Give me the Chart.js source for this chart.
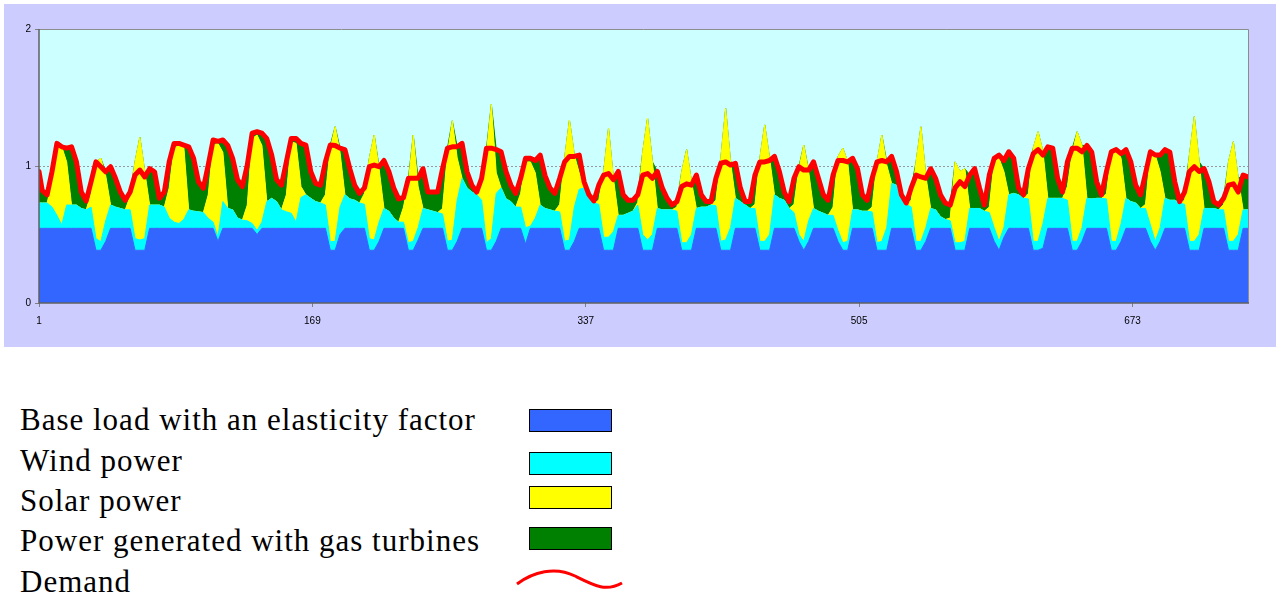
<!DOCTYPE html>
<html lang="en">
<head>
    <meta charset="UTF-8">
    <title>Base load, wind, solar and gas turbines vs demand</title>
    <script src="https://cdn.jsdelivr.net/npm/chart.js@4.4.0/dist/chart.umd.min.js"></script>
    <style>
        body { margin: 0; background: #fff; width: 1277px; height: 594px; position: relative; overflow: hidden; }
        #chartBox { position: absolute; left: 4px; top: 4px; width: 1272px; height: 343px; background: #CCCCFF; }
        .legendText { position: absolute; left: 20px; font-family: "Liberation Serif", "Times New Roman", serif;
                      font-size: 31px; letter-spacing: 1px; line-height: 40px; color: #000; white-space: nowrap; }
        .swatch { position: absolute; left: 529px; width: 81px; height: 21px; border: 1px solid #000; }
    </style>
</head>
<body>

    <div id="chartBox"><canvas id="chart"></canvas></div>

    <!-- Legend below the chart -->
    <div class="legendText" style="top:400px">Base load with an elasticity factor</div>
    <div class="legendText" style="top:441px">Wind power</div>
    <div class="legendText" style="top:481px">Solar power</div>
    <div class="legendText" style="top:521px">Power generated with gas turbines</div>
    <div class="legendText" style="top:562px">Demand</div>
    <div class="swatch" style="top:409px; background:#3366FF"></div>
    <div class="swatch" style="top:452px; background:#00FFFF"></div>
    <div class="swatch" style="top:486px; background:#FFFF00"></div>
    <div class="swatch" style="top:527px; background:#008000"></div>
    <svg style="position:absolute; left:0; top:0" width="1277" height="594">
        <path d="M517,584 C533,572 555,566 575,576 S606,592 622,583" stroke="#FF0000" stroke-width="3" fill="none"/>
    </svg>

    <script>
        // hourly index of a 31-day month, sampled every 3 hours (plus the first hour)
        const sampleHours = [1].concat(Array.from({ length: 248 }, (_, k) => 3 + 3 * k));
        const xTicks = [1, 169, 337, 505, 673];

        // one row per day
        const baseLoad = [
            0.545,
            0.545, 0.545, 0.545, 0.545, 0.545, 0.545, 0.545, 0.545,
            0.545, 0.545, 0.545, 0.385, 0.385, 0.45, 0.545, 0.545,
            0.545, 0.545, 0.545, 0.385, 0.385, 0.385, 0.545, 0.545,
            0.545, 0.545, 0.545, 0.545, 0.545, 0.545, 0.545, 0.545,
            0.545, 0.545, 0.545, 0.545, 0.45, 0.545, 0.545, 0.545,
            0.545, 0.545, 0.545, 0.545, 0.5, 0.545, 0.545, 0.545,
            0.545, 0.545, 0.545, 0.545, 0.545, 0.545, 0.545, 0.545,
            0.545, 0.545, 0.545, 0.385, 0.385, 0.5, 0.545, 0.545,
            0.545, 0.545, 0.545, 0.385, 0.385, 0.45, 0.545, 0.545,
            0.545, 0.545, 0.545, 0.385, 0.385, 0.46, 0.545, 0.545,
            0.545, 0.545, 0.545, 0.385, 0.385, 0.45, 0.545, 0.545,
            0.545, 0.545, 0.545, 0.385, 0.385, 0.45, 0.545, 0.545,
            0.545, 0.545, 0.545, 0.43, 0.545, 0.545, 0.545, 0.545,
            0.545, 0.545, 0.545, 0.385, 0.385, 0.45, 0.545, 0.545,
            0.545, 0.545, 0.545, 0.385, 0.385, 0.385, 0.545, 0.545,
            0.545, 0.545, 0.545, 0.385, 0.385, 0.385, 0.545, 0.545,
            0.545, 0.545, 0.545, 0.385, 0.385, 0.385, 0.545, 0.545,
            0.545, 0.545, 0.545, 0.385, 0.385, 0.385, 0.545, 0.545,
            0.545, 0.545, 0.545, 0.385, 0.385, 0.385, 0.545, 0.545,
            0.545, 0.545, 0.545, 0.45, 0.385, 0.45, 0.545, 0.545,
            0.545, 0.545, 0.545, 0.45, 0.385, 0.385, 0.545, 0.545,
            0.545, 0.545, 0.545, 0.385, 0.385, 0.385, 0.545, 0.545,
            0.545, 0.545, 0.545, 0.385, 0.385, 0.45, 0.545, 0.545,
            0.545, 0.545, 0.545, 0.385, 0.385, 0.385, 0.545, 0.545,
            0.545, 0.545, 0.545, 0.45, 0.385, 0.48, 0.545, 0.545,
            0.545, 0.545, 0.545, 0.385, 0.385, 0.4, 0.545, 0.545,
            0.545, 0.545, 0.545, 0.385, 0.385, 0.45, 0.545, 0.545,
            0.545, 0.545, 0.545, 0.385, 0.385, 0.45, 0.545, 0.545,
            0.545, 0.545, 0.545, 0.45, 0.385, 0.45, 0.545, 0.545,
            0.545, 0.545, 0.545, 0.385, 0.385, 0.385, 0.545, 0.545,
            0.545, 0.545, 0.545, 0.385, 0.385, 0.385, 0.545, 0.545
        ];

        const windPower = [
            0.185,
            0.185, 0.185, 0.155, 0.095, 0.025, 0.17, 0.17, 0.17,
            0.145, 0.135, 0.155, 0.085, 0.062, 0.15, 0.17, 0.155,
            0.145, 0.135, 0.135, 0.085, 0.075, 0.085, 0.17, 0.17,
            0.17, 0.155, 0.075, 0.045, 0.035, 0.065, 0.135, 0.125,
            0.121, 0.115, 0.073, 0.045, 0.03, 0.195, 0.145, 0.135,
            0.075, 0.06, 0.055, 0.035, 0.03, 0.045, 0.195, 0.219,
            0.195, 0.135, 0.121, 0.11, 0.045, 0.225, 0.245, 0.219,
            0.195, 0.185, 0.17, 0.062, 0.065, 0.2, 0.245, 0.215,
            0.205, 0.185, 0.175, 0.085, 0.075, 0.14, 0.145, 0.125,
            0.075, 0.045, 0.045, 0.055, 0.065, 0.09, 0.145, 0.135,
            0.125, 0.115, 0.105, 0.065, 0.075, 0.3, 0.365, 0.295,
            0.265, 0.245, 0.205, 0.055, 0.085, 0.35, 0.295, 0.215,
            0.195, 0.155, 0.155, 0.12, 0.015, 0.075, 0.17, 0.145,
            0.135, 0.125, 0.12, 0.065, 0.075, 0.25, 0.285, 0.295,
            0.235, 0.185, 0.175, 0.095, 0.095, 0.135, 0.095, 0.095,
            0.11, 0.125, 0.17, 0.115, 0.075, 0.115, 0.145, 0.135,
            0.135, 0.135, 0.125, 0.055, 0.055, 0.115, 0.145, 0.155,
            0.155, 0.17, 0.165, 0.065, 0.075, 0.165, 0.219, 0.195,
            0.17, 0.145, 0.145, 0.065, 0.065, 0.115, 0.245, 0.219,
            0.205, 0.145, 0.115, 0.05, 0.065, 0.15, 0.145, 0.125,
            0.11, 0.095, 0.095, 0.08, 0.055, 0.065, 0.135, 0.135,
            0.125, 0.125, 0.12, 0.055, 0.065, 0.165, 0.328, 0.315,
            0.235, 0.175, 0.155, 0.065, 0.065, 0.1, 0.145, 0.135,
            0.085, 0.065, 0.055, 0.055, 0.055, 0.065, 0.145, 0.145,
            0.145, 0.125, 0.115, 0.1, 0.065, 0.07, 0.245, 0.255,
            0.245, 0.219, 0.215, 0.065, 0.065, 0.18, 0.219, 0.219,
            0.219, 0.219, 0.205, 0.065, 0.065, 0.1, 0.219, 0.215,
            0.219, 0.219, 0.215, 0.065, 0.065, 0.13, 0.219, 0.195,
            0.185, 0.145, 0.145, 0.12, 0.065, 0.1, 0.219, 0.205,
            0.205, 0.185, 0.175, 0.065, 0.065, 0.115, 0.145, 0.145,
            0.145, 0.135, 0.135, 0.065, 0.065, 0.115, 0.135, 0.135
        ];

        const solarPower = [
            0,
            0, 0, 0.185, 0.51, 0.57, 0.315, 0, 0,
            0, 0, 0.1, 0.56, 0.609, 0.33, 0, 0,
            0, 0, 0.1, 0.56, 0.75, 0.488, 0, 0,
            0, 0, 0.22, 0.54, 0.57, 0.53, 0, 0,
            0, 0, 0.172, 0.563, 0.685, 0.36, 0, 0,
            0, 0, 0.115, 0.62, 0.696, 0.56, 0, 0,
            0, 0, 0.124, 0.522, 0.575, 0.08, 0, 0,
            0, 0, 0.075, 0.683, 0.837, 0.4, 0, 0,
            0, 0, 0.08, 0.586, 0.766, 0.39, 0, 0,
            0, 0, 0.11, 0.445, 0.776, 0.3, 0, 0,
            0, 0, 0.04, 0.64, 0.87, 0.31, 0, 0,
            0, 0, 0.13, 0.66, 0.98, 0.15, 0, 0,
            0, 0, 0.1, 0.48, 0.47, 0.33, 0, 0,
            0, 0, 0.055, 0.606, 0.875, 0.38, 0.12, 0,
            0, 0, 0.03, 0.478, 0.795, 0.39, 0, 0,
            0, 0, 0.02, 0.6, 0.89, 0.53, 0, 0,
            0, 0, 0.03, 0.52, 0.68, 0.385, 0, 0,
            0, 0, 0.04, 0.606, 0.96, 0.48, 0, 0,
            0, 0, 0.03, 0.606, 0.85, 0.556, 0, 0,
            0, 0, 0.06, 0.48, 0.703, 0.36, 0, 0,
            0, 0, 0.06, 0.538, 0.69, 0.58, 0, 0,
            0, 0, 0.035, 0.59, 0.776, 0.457, 0, 0,
            0, 0, 0.05, 0.58, 0.836, 0.38, 0, 0,
            0, 0, 0.02, 0.59, 0.52, 0.53, 0, 0,
            0, 0, 0.04, 0.48, 0.606, 0.41, 0, 0,
            0, 0, 0.04, 0.68, 0.8, 0.524, 0, 0,
            0, 0, 0.1, 0.65, 0.8, 0.6, 0, 0,
            0, 0, 0.04, 0.64, 0.68, 0.476, 0, 0,
            0, 0, 0.03, 0.51, 0.63, 0.41, 0, 0,
            0, 0, 0.03, 0.63, 0.91, 0.53, 0, 0,
            0, 0, 0.04, 0.58, 0.727, 0.41, 0, 0
        ];

        const gasTurbines = [
            0.23,
            0.09, 0.06, 0.075, 0.015, 0, 0.1, 0.425, 0.315,
            0.12, 0.065, 0.085, 0, 0, 0.028, 0.28, 0.21,
            0.12, 0.07, 0.03, 0, 0, 0, 0.265, 0.243,
            0.049, 0.11, 0.19, 0.035, 0.015, 0.013, 0.46, 0.386,
            0.219, 0.177, 0.217, 0.037, 0.015, 0.09, 0.46, 0.376,
            0.28, 0.245, 0.292, 0.04, 0.024, 0.09, 0.46, 0.316,
            0.16, 0.18, 0.24, 0.023, 0.035, 0.315, 0.363, 0.196,
            0.133, 0.13, 0.24, 0.023, 0, 0.03, 0.33, 0.22,
            0.11, 0.07, 0.04, 0, 0, 0.015, 0.35, 0.29,
            0.22, 0.17, 0.07, 0.025, 0, 0.06, 0.29, 0.13,
            0.14, 0.15, 0.29, 0.04, 0, 0.08, 0.255, 0.12,
            0.05, 0.02, 0.03, 0.03, 0, 0.17, 0.264, 0.2,
            0.12, 0.1, 0.11, 0.026, 0.026, 0.09, 0.365, 0.24,
            0.16, 0.13, 0.19, 0, 0, 0, 0.13, 0.045,
            0.01, 0.015, 0.11, 0, 0, 0, 0.32, 0.15,
            0.095, 0.08, 0.055, 0, 0, 0, 0.27, 0.16,
            0.084, 0.035, 0.04, 0, 0, 0, 0.244, 0.09,
            0.04, 0.025, 0.16, 0, 0, 0, 0.256, 0.1,
            0.025, 0.05, 0.214, 0, 0, 0, 0.28, 0.196,
            0.06, 0.05, 0.19, 0.015, 0, 0.01, 0.34, 0.24,
            0.135, 0.11, 0.234, 0, 0, 0, 0.376, 0.3,
            0.12, 0.08, 0.21, 0, 0, 0.023, 0.197, 0.1,
            0.01, 0.01, 0.09, 0, 0, 0, 0.29, 0.23,
            0.16, 0.12, 0.095, 0, 0, 0, 0.244, 0.29,
            0.15, 0.045, 0.234, 0.026, 0.024, 0.08, 0.314, 0.256,
            0.05, 0.026, 0.18, 0, 0, 0, 0.376, 0.366,
            0.146, 0.046, 0.18, 0.03, 0, 0, 0.386, 0.34,
            0.121, 0.026, 0.16, 0.014, 0, 0.034, 0.356, 0.29,
            0.13, 0.1, 0.225, 0.024, 0, 0.12, 0.356, 0.35,
            0.135, 0.01, 0.06, 0, 0, 0, 0.29, 0.195,
            0.05, 0.035, 0.044, 0, 0, 0, 0.254, 0.24
        ];

        const demand = [
            0.96,
            0.82, 0.79, 0.96, 1.165, 1.14, 1.13, 1.14, 1.03,
            0.81, 0.745, 0.885, 1.03, 0.995, 0.958, 0.995, 0.91,
            0.81, 0.75, 0.81, 0.934, 0.97, 0.92, 0.98, 0.958,
            0.764, 0.81, 1.03, 1.165, 1.165, 1.153, 1.14, 1.056,
            0.885, 0.837, 1.007, 1.19, 1.18, 1.19, 1.15, 1.056,
            0.9, 0.85, 1.007, 1.24, 1.25, 1.24, 1.2, 1.08,
            0.9, 0.86, 1.03, 1.2, 1.2, 1.165, 1.153, 0.96,
            0.873, 0.86, 1.03, 1.153, 1.15, 1.13, 1.12, 0.98,
            0.86, 0.8, 0.84, 0.995, 1.007, 0.995, 1.04, 0.96,
            0.84, 0.76, 0.77, 0.91, 0.91, 0.91, 0.98, 0.81,
            0.81, 0.81, 0.98, 1.13, 1.14, 1.14, 1.165, 0.96,
            0.86, 0.81, 0.91, 1.13, 1.13, 1.12, 1.104, 0.96,
            0.86, 0.8, 0.91, 1.056, 1.056, 1.04, 1.08, 0.93,
            0.84, 0.8, 0.91, 1.03, 1.07, 1.07, 1.08, 0.885,
            0.79, 0.745, 0.86, 0.934, 0.945, 0.9, 0.96, 0.79,
            0.75, 0.75, 0.79, 0.934, 0.945, 0.91, 0.96, 0.84,
            0.764, 0.715, 0.74, 0.85, 0.87, 0.86, 0.934, 0.79,
            0.74, 0.74, 0.91, 1.02, 1.03, 1.007, 1.02, 0.84,
            0.74, 0.74, 0.934, 1.03, 1.03, 1.04, 1.07, 0.96,
            0.81, 0.74, 0.91, 0.995, 0.97, 0.97, 1.03, 0.91,
            0.79, 0.75, 0.934, 1.04, 1.04, 1.03, 1.056, 0.98,
            0.79, 0.75, 0.91, 1.03, 1.04, 1.03, 1.07, 0.96,
            0.79, 0.73, 0.84, 0.934, 0.92, 0.91, 0.98, 0.91,
            0.79, 0.73, 0.715, 0.84, 0.885, 0.85, 0.934, 0.98,
            0.84, 0.715, 0.934, 1.056, 1.08, 1.04, 1.104, 1.056,
            0.84, 0.79, 0.98, 1.09, 1.12, 1.08, 1.14, 1.13,
            0.91, 0.81, 1.03, 1.13, 1.13, 1.104, 1.15, 1.1,
            0.885, 0.79, 0.96, 1.104, 1.12, 1.09, 1.12, 1.03,
            0.86, 0.79, 0.945, 1.104, 1.08, 1.08, 1.12, 1.1,
            0.885, 0.74, 0.81, 0.96, 0.995, 0.96, 0.98, 0.885,
            0.74, 0.715, 0.764, 0.86, 0.87, 0.81, 0.934, 0.92
        ];

        const toPoints = values => values.map((v, i) => ({ x: sampleHours[i], y: v }));

        // light cyan plot area, dotted line at 1 and the grey frame
        const plotFrame = {
            id: 'plotFrame',
            beforeDraw(chart) {
                const { ctx, chartArea: a } = chart;
                ctx.save();
                ctx.fillStyle = '#CCFFFF';
                ctx.fillRect(a.left, a.top, a.right - a.left, a.bottom - a.top);
                ctx.restore();
            },
            beforeDatasetsDraw(chart) {
                const { ctx, chartArea: a, scales } = chart;
                const gy = Math.round(scales.y.getPixelForValue(1)) + 0.5;
                ctx.save();
                ctx.strokeStyle = '#9a9a9a';
                ctx.lineWidth = 1;
                ctx.setLineDash([2, 2]);
                ctx.beginPath();
                ctx.moveTo(a.left, gy);
                ctx.lineTo(a.right, gy);
                ctx.stroke();
                ctx.restore();
            },
            afterDatasetsDraw(chart) {
                const { ctx, chartArea: a } = chart;
                ctx.save();
                ctx.strokeStyle = '#8c8c8c';
                ctx.lineWidth = 1;
                ctx.beginPath();
                ctx.moveTo(a.left, a.top + 0.5);
                ctx.lineTo(a.right + 0.5, a.top + 0.5);
                ctx.lineTo(a.right + 0.5, a.bottom);
                ctx.stroke();
                ctx.strokeStyle = '#606060';
                ctx.lineWidth = 1.5;
                ctx.beginPath();
                ctx.moveTo(a.left, a.top);
                ctx.lineTo(a.left, a.bottom);
                ctx.lineTo(a.right + 1, a.bottom);
                ctx.stroke();
                ctx.restore();
            }
        };

        const areaStyle = color => ({
            backgroundColor: color,
            borderColor: color,
            borderWidth: 1,
            pointRadius: 0,
            stack: 'supply',
            order: 1
        });

        new Chart(document.getElementById('chart'), {
            type: 'line',
            data: {
                datasets: [
                    { label: 'Base load with an elasticity factor', data: toPoints(baseLoad), fill: 'origin', ...areaStyle('#3366FF') },
                    { label: 'Wind power', data: toPoints(windPower), fill: '-1', ...areaStyle('#00FFFF') },
                    { label: 'Solar power', data: toPoints(solarPower), fill: '-1', ...areaStyle('#FFFF00') },
                    { label: 'Power generated with gas turbines', data: toPoints(gasTurbines), fill: '-1', ...areaStyle('#008000') },
                    {
                        label: 'Demand',
                        data: toPoints(demand),
                        fill: false,
                        borderColor: '#FF0000',
                        borderWidth: 5,
                        borderJoinStyle: 'round',
                        borderCapStyle: 'round',
                        pointRadius: 0,
                        stack: 'demand',
                        order: -1
                    }
                ]
            },
            options: {
                responsive: true,
                maintainAspectRatio: false,
                animation: false,
                elements: { line: { tension: 0 } },
                layout: { padding: { left: 0, top: 25, right: 28, bottom: 0 } },
                plugins: {
                    legend: { display: false },
                    tooltip: { enabled: false }
                },
                scales: {
                    x: {
                        type: 'linear',
                        min: 1,
                        max: 744,
                        afterBuildTicks: scale => { scale.ticks = xTicks.map(v => ({ value: v })); },
                        afterFit: scale => { scale.height = 44; },
                        grid: { drawOnChartArea: false, drawTicks: true, tickLength: 4, color: '#808080' },
                        border: { display: false },
                        ticks: {
                            autoSkip: false,
                            maxRotation: 0,
                            padding: 8,
                            color: '#000',
                            font: { family: 'Arial, "Liberation Sans", sans-serif', size: 10 }
                        }
                    },
                    y: {
                        stacked: true,
                        min: 0,
                        max: 2,
                        afterFit: scale => { scale.width = 35; },
                        grid: { drawOnChartArea: false, drawTicks: true, tickLength: 4, color: '#808080' },
                        border: { display: false },
                        ticks: {
                            stepSize: 1,
                            padding: 4,
                            color: '#000',
                            font: { family: 'Arial, "Liberation Sans", sans-serif', size: 10 }
                        }
                    }
                }
            },
            plugins: [plotFrame]
        });
    </script>
</body>
</html>
